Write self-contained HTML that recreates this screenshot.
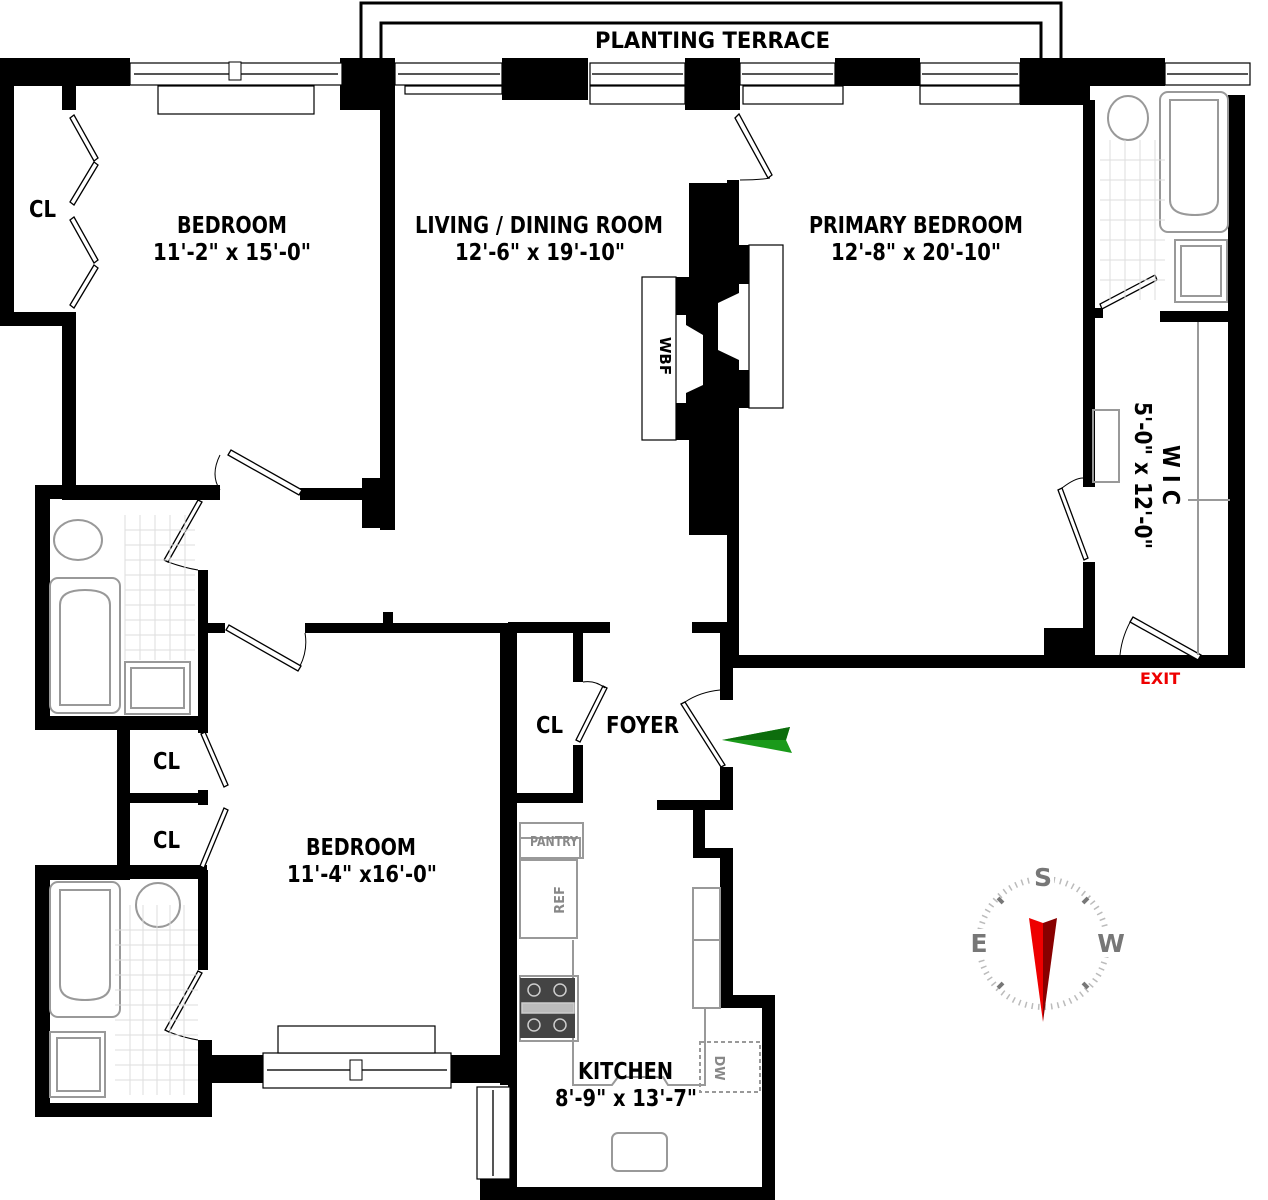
<!DOCTYPE html>
<html><head><meta charset="utf-8"><style>
html,body{margin:0;padding:0;background:#fff;}
svg{display:block;}
text{font-family:"DejaVu Sans","Liberation Sans",sans-serif;font-weight:bold;}
</style></head><body>
<svg width="1268" height="1200" viewBox="0 0 1268 1200" xmlns="http://www.w3.org/2000/svg">
<rect width="1268" height="1200" fill="#fff"/>
<path d="M361 58 V3 H1061 V58" fill="none" stroke="#000" stroke-width="3"/>
<path d="M381 58 V23 H1041 V58" fill="none" stroke="#000" stroke-width="3"/>
<text x="595" y="48" font-size="22" textLength="235" lengthAdjust="spacingAndGlyphs">PLANTING TERRACE</text>

<g fill="#fff" stroke="#000" stroke-width="1.2">
<rect x="642" y="277" width="34" height="163"/>
<rect x="749" y="245" width="34" height="163"/>
</g>

<g fill="#000">
<rect x="0" y="58" width="130" height="28"/>
<rect x="62" y="58" width="14" height="52"/>
<rect x="0" y="58" width="14" height="267"/>
<rect x="0" y="312" width="76" height="14"/>
<rect x="62" y="312" width="14" height="188"/>
<rect x="340" y="58" width="55" height="52"/>
<rect x="502" y="58" width="86" height="42"/>
<rect x="685" y="58" width="55" height="52"/>
<rect x="835" y="58" width="85" height="28"/>
<rect x="1020" y="58" width="70" height="47"/>
<rect x="1090" y="58" width="75" height="28"/>
<rect x="1228" y="95" width="17" height="573"/>
<rect x="380" y="100" width="15" height="430"/>
<rect x="62" y="488" width="158" height="12"/>
<rect x="300" y="488" width="80" height="12"/>
<rect x="362" y="478" width="33" height="50"/>
<rect x="35" y="485" width="15" height="245"/>
<rect x="35" y="485" width="185" height="14"/>
<rect x="198" y="570" width="10" height="160"/>
<rect x="35" y="716" width="173" height="14"/>
<rect x="198" y="485" width="10" height="15"/>
<rect x="207" y="623" width="18" height="10"/>
<rect x="305" y="623" width="305" height="10"/>
<rect x="383" y="612" width="10" height="12"/>
<rect x="117" y="716" width="13" height="160"/>
<rect x="117" y="793" width="90" height="10"/>
<rect x="198" y="725" width="10" height="8"/>
<rect x="198" y="790" width="10" height="15"/>
<rect x="117" y="865" width="90" height="14"/>
<rect x="35" y="865" width="15" height="252"/>
<rect x="35" y="865" width="95" height="15"/>
<rect x="198" y="870" width="10" height="100"/>
<rect x="198" y="1040" width="14" height="77"/>
<rect x="35" y="1103" width="177" height="14"/>
<rect x="207" y="1055" width="58" height="28"/>
<rect x="448" y="1055" width="67" height="28"/>
<rect x="500" y="630" width="10" height="455"/>
<rect x="508" y="630" width="9" height="570"/>
<rect x="480" y="1175" width="35" height="25"/>
<rect x="480" y="1187" width="295" height="13"/>
<rect x="508" y="622" width="102" height="11"/>
<rect x="573" y="632" width="10" height="50"/>
<rect x="573" y="745" width="10" height="57"/>
<rect x="517" y="793" width="66" height="10"/>
<rect x="692" y="622" width="40" height="11"/>
<rect x="720" y="622" width="13" height="78"/>
<rect x="720" y="655" width="520" height="13"/>
<rect x="720" y="767" width="13" height="43"/>
<rect x="657" y="800" width="76" height="10"/>
<rect x="693" y="803" width="12" height="55"/>
<rect x="693" y="848" width="40" height="10"/>
<rect x="720" y="848" width="13" height="160"/>
<rect x="720" y="995" width="55" height="13"/>
<rect x="762" y="995" width="13" height="205"/>
<rect x="727" y="180" width="12" height="65"/>
<rect x="727" y="530" width="12" height="130"/>
<path d="M689 183 H739 V245 H749 V284 H739 V293 L718 303 V350 L739 360 V370 H749 V408 H739 V535 H689 V440 H676 V403 H686 V393 L703 385 V335 L686 325 V315 H676 V277 H689 Z"/>
<rect x="1083" y="100" width="12" height="387"/>
<rect x="1083" y="562" width="12" height="95"/>
<rect x="1044" y="628" width="50" height="30"/>
<rect x="1095" y="308" width="8" height="10"/>
<rect x="1160" y="311" width="80" height="11"/>
<rect x="1200" y="655" width="45" height="13"/>
<rect x="1090" y="655" width="30" height="13"/>
</g>

<g fill="#fff" stroke="#000" stroke-width="1.2">
<rect x="130" y="63" width="212" height="22"/>
<rect x="158" y="86" width="156" height="28"/>
<rect x="395" y="63" width="107" height="22"/>
<rect x="405" y="86" width="97" height="8"/>
<rect x="590" y="63" width="95" height="22"/>
<rect x="590" y="86" width="95" height="18"/>
<rect x="740" y="63" width="95" height="22"/>
<rect x="743" y="86" width="100" height="18"/>
<rect x="920" y="63" width="100" height="22"/>
<rect x="920" y="86" width="100" height="18"/>
<rect x="1165" y="63" width="85" height="22"/>
<rect x="263" y="1053" width="188" height="35"/>
<rect x="278" y="1026" width="157" height="27"/>
<rect x="477" y="1087" width="33" height="92"/>
</g>
<g stroke="#555" stroke-width="2">
<line x1="134" y1="74" x2="338" y2="74"/><line x1="398" y1="74" x2="500" y2="74"/>
<line x1="592" y1="74" x2="683" y2="74"/><line x1="742" y1="74" x2="833" y2="74"/>
<line x1="922" y1="74" x2="1018" y2="74"/><line x1="1167" y1="74" x2="1248" y2="74"/>
<line x1="267" y1="1070" x2="447" y2="1070"/><line x1="493" y1="1090" x2="493" y2="1176"/>
</g>
<rect x="229" y="62" width="12" height="18" fill="#fff" stroke="#000"/>
<rect x="350" y="1060" width="12" height="20" fill="#fff" stroke="#000"/>

<g fill="#fff" stroke="#000" stroke-width="1.3">
<polygon points="70,118 74,115 98,158 94,161"/>
<polygon points="94,162 98,165 74,205 70,202"/>
<polygon points="70,220 74,217 98,260 94,263"/>
<polygon points="94,265 98,268 74,308 70,305"/>
<polygon points="228,455 231,450 302,490 299,495"/>
<polygon points="164,560 168,562 202,502 198,500"/>
<polygon points="226,630 229,625 301,666 298,671"/>
<polygon points="201,734 205,732 228,785 224,787"/>
<polygon points="200,866 204,868 228,810 224,808"/>
<polygon points="165,1030 169,1032 202,973 198,971"/>
<polygon points="576,740 580,742 607,688 603,686"/>
<polygon points="681,704 685,702 725,765 721,767"/>
<polygon points="735,118 739,114 772,175 768,178"/>
<polygon points="1058,490 1062,488 1088,558 1084,560"/>
<polygon points="1100,304 1102,309 1157,280 1155,275"/>
<polygon points="1130,622 1133,617 1201,655 1198,660"/>
</g>
<g fill="none" stroke="#000" stroke-width="1">
<path d="M220 455 Q210 475 220 490"/>
<path d="M300 666 Q308 650 305 633"/>
<path d="M583 682 Q595 680 605 688"/>
<path d="M685 702 Q700 692 720 690"/>
<path d="M740 180 Q760 180 770 178"/>
<path d="M1062 488 Q1075 478 1083 478"/>
<path d="M1133 617 Q1122 635 1120 655"/>
<path d="M168 562 Q185 568 198 570"/>
<path d="M169 1032 Q185 1038 198 1040"/>
</g>

<g fill="none" stroke="#999" stroke-width="2">
<rect x="50" y="578" width="70" height="135" rx="8"/>
<path d="M60 705 V605 Q60 590 85 590 Q110 590 110 605 V705 Z"/>
<ellipse cx="78" cy="540" rx="24" ry="20"/>
<rect x="125" y="662" width="65" height="52"/><rect x="131" y="668" width="53" height="40"/>
<rect x="50" y="882" width="70" height="135" rx="8"/>
<path d="M60 890 V985 Q60 1000 85 1000 Q110 1000 110 985 V890 Z"/>
<ellipse cx="158" cy="905" rx="22" ry="22"/>
<rect x="50" y="1032" width="55" height="65"/><rect x="57" y="1038" width="43" height="53"/>
<ellipse cx="1128" cy="118" rx="20" ry="22"/>
<rect x="1160" y="92" width="68" height="140" rx="8"/>
<path d="M1170 100 V200 Q1170 215 1195 215 Q1218 215 1218 200 V100 Z"/>
<rect x="1175" y="240" width="52" height="62"/><rect x="1181" y="246" width="40" height="50"/>
<rect x="1093" y="410" width="26" height="72"/>
<line x1="1198" y1="322" x2="1198" y2="655"/>
<line x1="1188" y1="500" x2="1230" y2="500"/>
</g>
<g stroke="#ddd" stroke-width="1">
<path d="M125 515 V660 M140 515 V660 M155 515 V660 M170 515 V660 M185 515 V660"/>
<path d="M125 530 H195 M125 545 H195 M125 560 H195 M125 575 H195 M125 590 H195 M125 605 H195 M125 620 H195 M125 635 H195 M125 650 H195"/>
<path d="M130 905 V1095 M143 905 V1095 M157 905 V1095 M170 905 V1095 M184 905 V1095"/>
<path d="M115 930 H198 M115 945 H198 M115 960 H198 M115 975 H198 M115 990 H198 M115 1005 H198 M115 1020 H198 M115 1035 H198 M115 1050 H198 M115 1065 H198 M115 1080 H198"/>
<path d="M1110 140 V300 M1125 140 V300 M1140 140 V300 M1155 140 V300"/>
<path d="M1100 160 H1165 M1100 180 H1165 M1100 200 H1165 M1100 220 H1165 M1100 240 H1165 M1100 260 H1165 M1100 280 H1165"/>
</g>

<g fill="none" stroke="#999" stroke-width="2">
<rect x="520" y="823" width="63" height="35"/>
<rect x="520" y="838" width="60" height="20"/>
<rect x="520" y="860" width="57" height="78"/>
<rect x="520" y="976" width="58" height="65"/>
<path d="M573 940 V1085 H612 L618 1077 H663 L668 1085 H705 V1008"/>
<rect x="693" y="888" width="27" height="120"/>
<line x1="693" y1="940" x2="720" y2="940"/>
<rect x="612" y="1133" width="55" height="38" rx="6"/>
<rect x="700" y="1042" width="60" height="50" stroke-dasharray="4,3"/>
</g>
<rect x="520" y="978" width="55" height="60" fill="#444"/>
<g stroke="#ccc" stroke-width="1.5" fill="none">
<circle cx="534" cy="990" r="6"/><circle cx="560" cy="990" r="6"/>
<circle cx="534" cy="1025" r="6"/><circle cx="560" cy="1025" r="6"/>
<rect x="522" y="1003" width="52" height="10" fill="#bbb"/>
</g>
<g fill="#888" font-size="13">
<text x="530" y="846" textLength="48" lengthAdjust="spacingAndGlyphs">PANTRY</text>
<text x="0" y="0" transform="translate(564 900) rotate(-90)" text-anchor="middle">REF</text>
<text x="0" y="0" transform="translate(715 1068) rotate(90)" text-anchor="middle">DW</text>
</g>

<g font-size="23" fill="#000">
<text x="177" y="233" textLength="110" lengthAdjust="spacingAndGlyphs">BEDROOM</text>
<text x="153" y="260" textLength="158" lengthAdjust="spacingAndGlyphs">11'-2" x 15'-0"</text>
<text x="415" y="233" textLength="248" lengthAdjust="spacingAndGlyphs">LIVING / DINING ROOM</text>
<text x="455" y="260" textLength="170" lengthAdjust="spacingAndGlyphs">12'-6" x 19'-10"</text>
<text x="809" y="233" textLength="214" lengthAdjust="spacingAndGlyphs">PRIMARY BEDROOM</text>
<text x="831" y="260" textLength="170" lengthAdjust="spacingAndGlyphs">12'-8" x 20'-10"</text>
<text x="29" y="217" textLength="27" lengthAdjust="spacingAndGlyphs">CL</text>
<text x="153" y="769" textLength="27" lengthAdjust="spacingAndGlyphs">CL</text>
<text x="153" y="848" textLength="27" lengthAdjust="spacingAndGlyphs">CL</text>
<text x="536" y="733" textLength="27" lengthAdjust="spacingAndGlyphs">CL</text>
<text x="606" y="733" textLength="73" lengthAdjust="spacingAndGlyphs">FOYER</text>
<text x="306" y="855" textLength="110" lengthAdjust="spacingAndGlyphs">BEDROOM</text>
<text x="287" y="882" textLength="150" lengthAdjust="spacingAndGlyphs">11'-4" x16'-0"</text>
<text x="578" y="1079" textLength="95" lengthAdjust="spacingAndGlyphs">KITCHEN</text>
<text x="555" y="1106" textLength="142" lengthAdjust="spacingAndGlyphs">8'-9" x 13'-7"</text>
<text x="0" y="0" transform="translate(1163 445) rotate(90)" textLength="60" lengthAdjust="spacingAndGlyphs">W I C</text>
<text x="0" y="0" transform="translate(1135 402) rotate(90)" textLength="147" lengthAdjust="spacingAndGlyphs">5'-0" x 12'-0"</text>
<text x="0" y="0" font-size="15" transform="translate(660 356) rotate(90)" text-anchor="middle">WBF</text>
<text x="1140" y="684" font-size="16" fill="#e00">EXIT</text>
</g>

<polygon points="722,740 790,727 786,740 792,753" fill="#1a9a1a"/>
<polygon points="722,740 790,727 786,740" fill="#0d6d0d"/>

<g transform="translate(1043 943)">
<circle r="64" fill="none" stroke="#bbb" stroke-width="6" stroke-dasharray="1.5,5"/>
<g stroke="#777" stroke-width="4">
<line x1="-45" y1="-45" x2="-40" y2="-40"/><line x1="45" y1="-45" x2="40" y2="-40"/>
<line x1="-45" y1="45" x2="-40" y2="40"/><line x1="45" y1="45" x2="40" y2="40"/>
</g>
<rect x="-11" y="-82" width="22" height="26" fill="#fff"/>
<rect x="-76" y="-14" width="22" height="28" fill="#fff"/>
<rect x="55" y="-14" width="28" height="28" fill="#fff"/>
<g fill="#777" font-size="25" text-anchor="middle">
<text x="0" y="-57">S</text><text x="-64" y="9">E</text><text x="68" y="9">W</text>
</g>
<polygon points="-14,-25 0,-20 0,79" fill="#e00"/>
<polygon points="14,-25 0,-20 0,79" fill="#800"/>
</g>
</svg>
</body></html>
